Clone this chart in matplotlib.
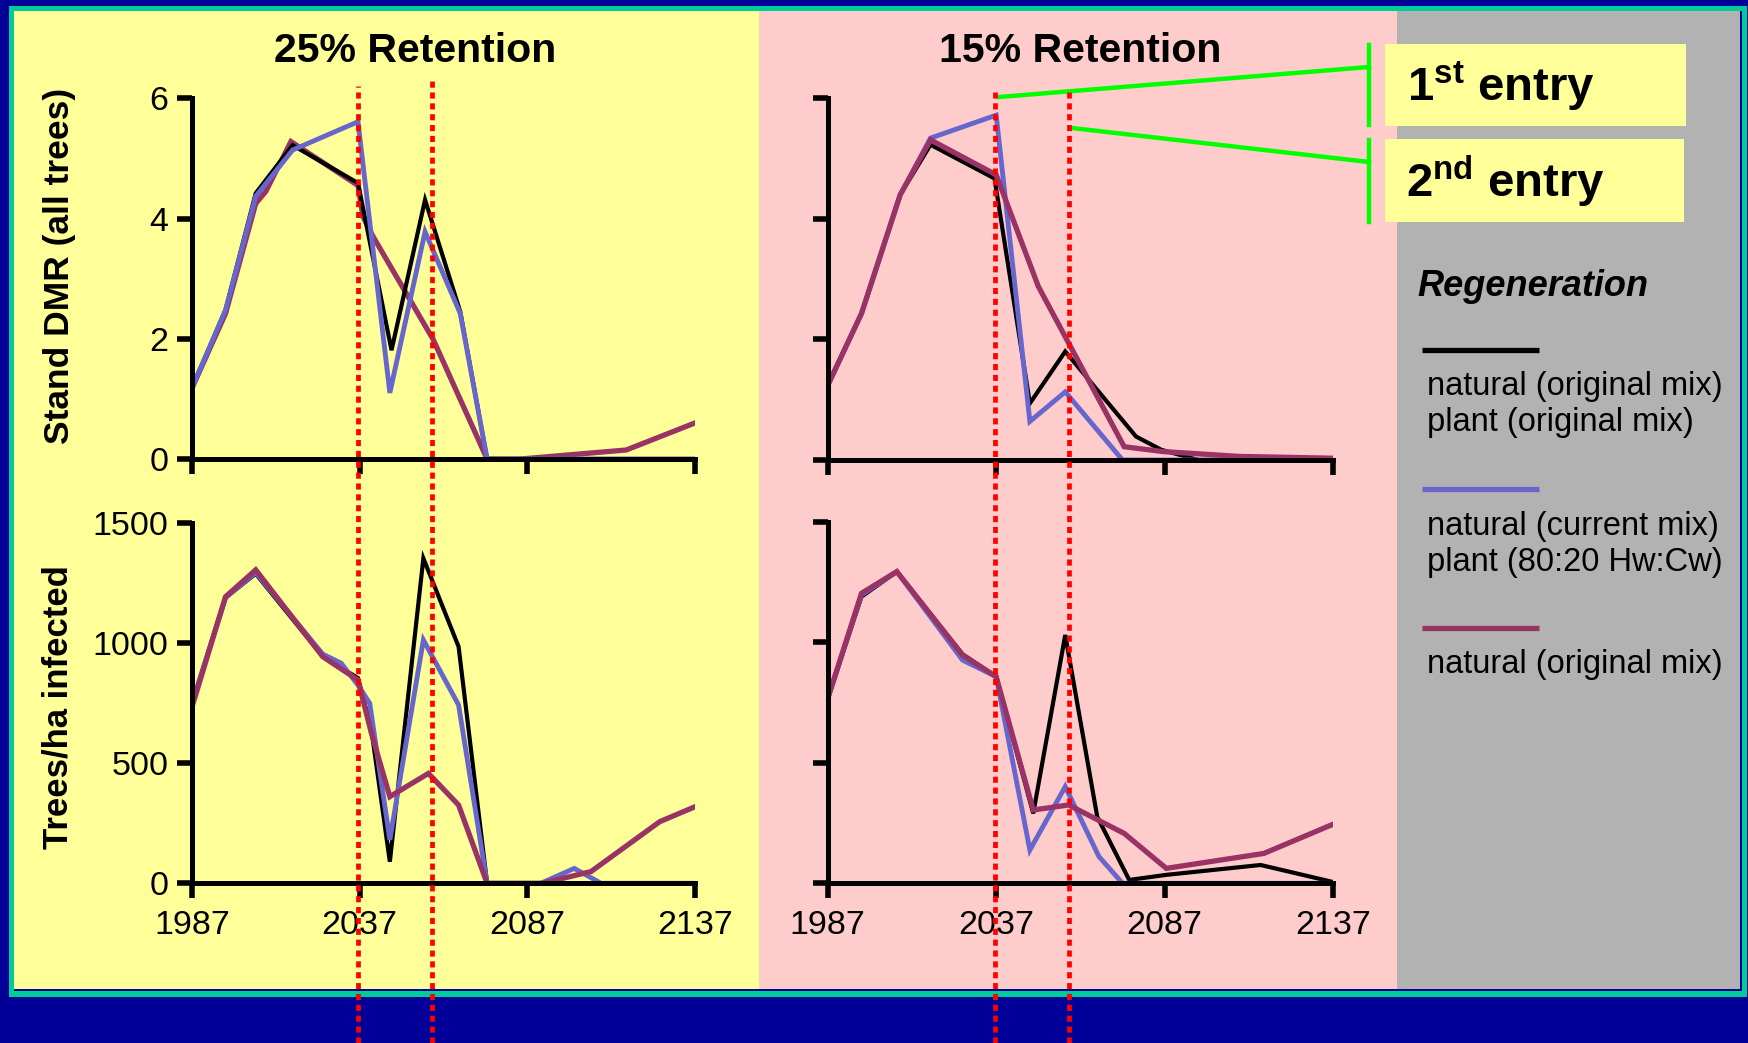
import matplotlib
matplotlib.use("Agg")
import matplotlib.pyplot as plt
from matplotlib.lines import Line2D
from matplotlib.patches import Rectangle
from matplotlib import transforms

W, H = 1749, 1043

plt.rcParams['font.family'] = ['Liberation Sans', 'DejaVu Sans']
plt.rcParams['mathtext.fontset'] = 'custom'
plt.rcParams['mathtext.rm'] = 'Liberation Sans'
plt.rcParams['mathtext.bf'] = 'Liberation Sans:bold'

# ---- data ----
year_ticks = [1987, 2037, 2087, 2137]
dmr_ticks = [0, 2, 4, 6]
trees_ticks = [0, 500, 1000, 1500]
entry_years = [2036.5, 2058.7]

# Stand DMR, 25% retention
dmr25_black_x = [1987, 1997, 2006, 2017, 2036.5, 2046.5, 2056.5, 2067, 2075, 2137]
dmr25_black_y = [1.18, 2.48, 4.42, 5.22, 4.59, 1.81, 4.31, 2.45, 0, 0]
dmr25_blue_x = [1987, 1997, 2006, 2017, 2036.5, 2046, 2056.5, 2067, 2075, 2137]
dmr25_blue_y = [1.18, 2.48, 4.37, 5.14, 5.61, 1.1, 3.78, 2.42, 0, 0]
dmr25_purple_x = [1987, 1997, 2006, 2009, 2016.5, 2036.5, 2038, 2041, 2059, 2075, 2085, 2116.5, 2137]
dmr25_purple_y = [1.18, 2.42, 4.25, 4.45, 5.28, 4.55, 4.03, 3.7, 1.98, 0, 0, 0.15, 0.6]

# Stand DMR, 15% retention
dmr15_black_x = [1987, 1997, 2008.5, 2017.5, 2036.5, 2047, 2057.5, 2078.5, 2086, 2097, 2137]
dmr15_black_y = [1.24, 2.43, 4.4, 5.23, 4.67, 0.94, 1.80, 0.39, 0.17, 0, 0]
dmr15_blue_x = [1987, 1997, 2008.5, 2017.5, 2037, 2047, 2057.5, 2074.5, 2137]
dmr15_blue_y = [1.24, 2.43, 4.4, 5.34, 5.72, 0.64, 1.13, 0, 0]
dmr15_purple_x = [1987, 1997, 2008.5, 2017.5, 2037, 2049.5, 2058.5, 2075, 2086.5, 2109, 2136.5]
dmr15_purple_y = [1.24, 2.43, 4.4, 5.31, 4.73, 2.88, 1.94, 0.22, 0.14, 0.06, 0.03]

# Trees/ha infected, 25% retention
trees25_black_x = [1987, 1997, 2006, 2026, 2036.5, 2040.5, 2046, 2056, 2066.5, 2075, 2137]
trees25_black_y = [750, 1190, 1290, 945, 855, 640, 90, 1354, 986, 0, 0]
trees25_blue_x = [1987, 1997, 2006, 2026, 2031.5, 2036.5, 2040, 2046, 2056, 2066.5, 2075, 2091, 2101, 2109, 2137]
trees25_blue_y = [750, 1190, 1295, 955, 917, 826, 750, 181, 1014, 743, 0, 0, 62, 0, 0]
trees25_purple_x = [1987, 1997, 2006, 2026, 2036.5, 2040.5, 2046, 2057.5, 2066.5, 2075, 2091.5, 2106, 2126.5, 2137]
trees25_purple_y = [735, 1194, 1306, 944, 847, 625, 361, 458, 326, 0, 0, 49, 257, 319]

# Trees/ha infected, 15% retention
trees15_black_x = [1987, 1997, 2007.5, 2027, 2037, 2048, 2057.5, 2067, 2076.5, 2087.5, 2115.5, 2136.5]
trees15_black_y = [767, 1189, 1293, 950, 857, 290, 1030, 276, 14, 35, 76, 7]
trees15_blue_x = [1987, 1997, 2007.5, 2027, 2037, 2047, 2057.5, 2067.5, 2074.5, 2137]
trees15_blue_y = [767, 1196, 1293, 926, 857, 138, 401, 111, 0, 0]
trees15_purple_x = [1987, 1997, 2007.5, 2027, 2037, 2048, 2058.5, 2075, 2087.5, 2116.5, 2136.5]
trees15_purple_y = [767, 1203, 1293, 947, 857, 304, 325, 207, 62, 124, 242]

legend_labels = [["natural (original mix)", "plant (original mix)"],
                 ["natural (current mix)", "plant (80:20 Hw:Cw)"],
                 ["natural (original mix)"]]

BLACK, BLUE, PURPLE = '#000000', '#6666CC', '#993366'
LW = {BLACK: 3.0, BLUE: 3.5, PURPLE: 3.8}

fig = plt.figure(figsize=(W / 100, H / 100), dpi=100)
fig.patch.set_facecolor('#000099')

# background panels, pixel coordinates
bg = fig.add_axes([0, 0, 1, 1], zorder=-1)
bg.set_xlim(0, W)
bg.set_ylim(H, 0)
bg.axis('off')
bg.add_patch(Rectangle((9, 6), 1738, 991, fc='#00CC99', ec='none'))
bg.add_patch(Rectangle((14, 11), 1728, 980, fc='#000099', ec='none'))
bg.add_patch(Rectangle((14, 11), 745, 978, fc='#FFFF99', ec='none'))
bg.add_patch(Rectangle((759, 11), 638, 978, fc='#FFCCCC', ec='none'))
bg.add_patch(Rectangle((1397, 11), 343, 978, fc='#B2B2B2', ec='none'))


def px_rect(left, top, right, bottom):
    return [left / W, 1 - bottom / H, (right - left) / W, (bottom - top) / H]


def draw_panel(rect, series, ylim, yticks, ylabels, xlabels):
    ax = fig.add_axes(rect, zorder=1)
    ax.patch.set_alpha(0)
    for x, y, c, z in series:
        ax.plot(x, y, color=c, lw=LW[c], zorder=z, solid_joinstyle='miter')
    ax.set_xlim(1987, 2137)
    ax.set_ylim(*ylim)
    ax.set_xticks(year_ticks)
    ax.set_yticks(yticks)
    for s in ('top', 'right'):
        ax.spines[s].set_visible(False)
    for s in ('left', 'bottom'):
        ax.spines[s].set_linewidth(3.6)
        ax.spines[s].set_zorder(5)
    ax.tick_params(direction='out', length=11, width=4, labelsize=24.5)
    ax.tick_params(axis='x', pad=8)
    ax.tick_params(axis='y', pad=6)
    if not ylabels:
        ax.set_yticklabels([])
    if not xlabels:
        ax.set_xticklabels([])
    return ax


ax_tl = draw_panel(px_rect(192, 98.3, 695, 459),
                   [(dmr25_purple_x, dmr25_purple_y, PURPLE, 2),
                    (dmr25_black_x, dmr25_black_y, BLACK, 3),
                    (dmr25_blue_x, dmr25_blue_y, BLUE, 4)],
                   (0, 6), dmr_ticks, True, False)
ax_tr = draw_panel(px_rect(827.8, 98.3, 1333, 460),
                   [(dmr15_black_x, dmr15_black_y, BLACK, 2),
                    (dmr15_blue_x, dmr15_blue_y, BLUE, 3),
                    (dmr15_purple_x, dmr15_purple_y, PURPLE, 4)],
                   (0, 6), dmr_ticks, False, False)
ax_bl = draw_panel(px_rect(192, 523.3, 695, 883.3),
                   [(trees25_black_x, trees25_black_y, BLACK, 2),
                    (trees25_blue_x, trees25_blue_y, BLUE, 3),
                    (trees25_purple_x, trees25_purple_y, PURPLE, 4)],
                   (0, 1500), trees_ticks, True, True)
ax_br = draw_panel(px_rect(827.8, 521.7, 1333, 883.3),
                   [(trees15_black_x, trees15_black_y, BLACK, 2),
                    (trees15_blue_x, trees15_blue_y, BLUE, 3),
                    (trees15_purple_x, trees15_purple_y, PURPLE, 4)],
                   (0, 1500), trees_ticks, False, True)

# overlay for annotations, pixel coordinates
ov = fig.add_axes([0, 0, 1, 1], zorder=3)
ov.set_xlim(0, W)
ov.set_ylim(H, 0)
ov.axis('off')
ov.patch.set_alpha(0)

ov.text(415, 62, '25% Retention', ha='center', va='baseline', fontsize=29.5, fontweight='bold')
ov.text(1080, 62, '15% Retention', ha='center', va='baseline', fontsize=29.5, fontweight='bold')
ov.text(60, 266, 'Stand DMR (all trees)', ha='center', va='center', rotation=90,
        fontsize=25.5, fontweight='bold')
ov.text(58, 707, 'Trees/ha infected', ha='center', va='center', rotation=90,
        fontsize=25, fontweight='bold')

# entry call-outs
GREEN = '#00FF00'
ov.add_patch(Rectangle((1385, 44), 301, 82, fc='#FFFF99', ec='none'))
ov.add_patch(Rectangle((1385, 139), 299, 83, fc='#FFFF99', ec='none'))
ov.text(1407, 101, r'1$^{\mathbf{st}}$ entry', ha='left', va='baseline', fontsize=34, fontweight='bold')
ov.text(1406, 197, r'2$^{\mathbf{nd}}$ entry', ha='left', va='baseline', fontsize=34, fontweight='bold')
ov.plot([999, 1369], [97, 67], color=GREEN, lw=3.2)
ov.plot([1072, 1369], [128, 162], color=GREEN, lw=3.2)
ov.plot([1369, 1369], [45, 125], color=GREEN, lw=3.2)
ov.plot([1369, 1369], [140, 222], color=GREEN, lw=3.2)

# regeneration legend
ov.text(1417, 287, 'Regeneration', ha='left', va='center', fontsize=26,
        fontweight='bold', style='italic')
for c, y0, lines in zip([BLACK, BLUE, PURPLE], [350, 489, 628], legend_labels):
    ov.plot([1422, 1539], [y0, y0], color=c, lw=3.8, solid_capstyle='butt')
    for i, t in enumerate(lines):
        ov.text(1427, y0 + 37 + 36 * i, t, ha='left', va='center', fontsize=23.5)

# harvest entry lines, running down through the bottom band
for ax, tops in ((ax_tl, [86, 78]), (ax_tr, [91.5, 91.5])):
    trans = transforms.blended_transform_factory(ax.transData, fig.transFigure)
    for yr, top in zip(entry_years, tops):
        fig.add_artist(Line2D([yr, yr], [0, 1 - top / H], transform=trans, color='#FF0000',
                              lw=3.4, linestyle=(0, (1.3, 1.0)), zorder=5))

fig.savefig('out.png', dpi=100, facecolor=fig.get_facecolor())
